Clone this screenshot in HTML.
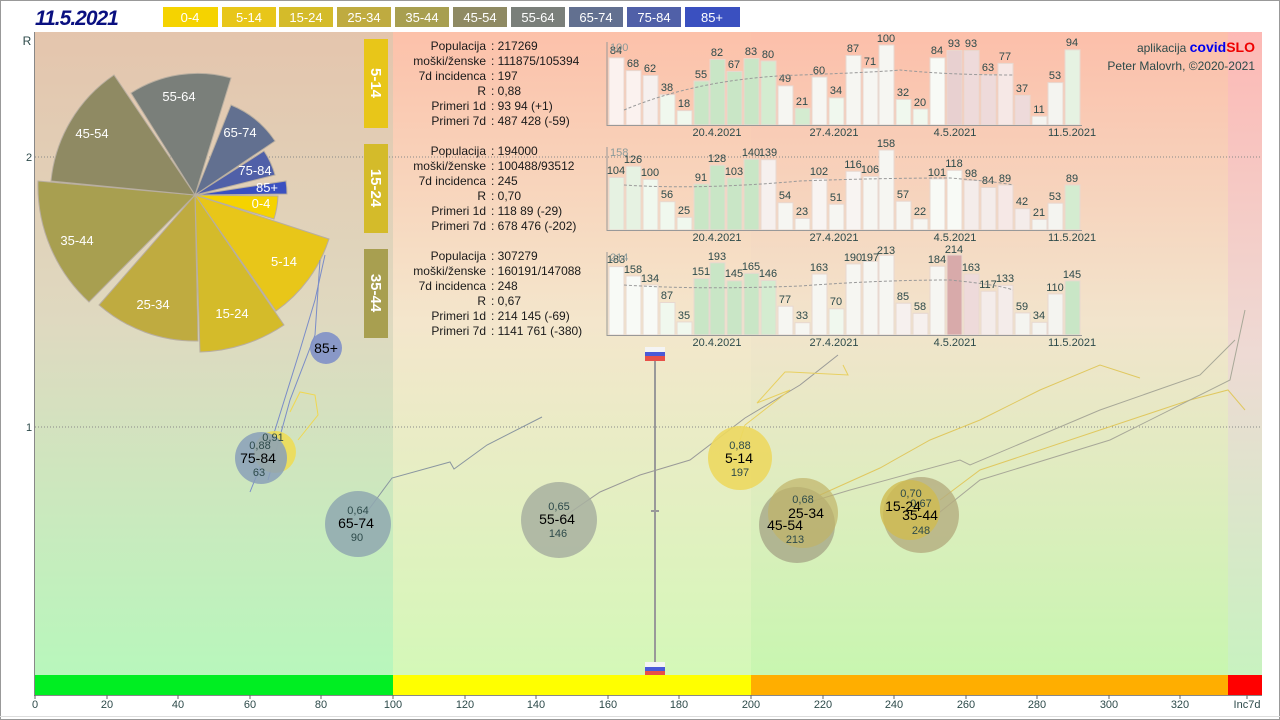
<!DOCTYPE html>
<html><head><meta charset="utf-8"><style>
html,body{margin:0;padding:0;background:#fff;}
svg{display:block;font-family:"Liberation Sans",sans-serif;}
.lb{fill:#1a1a1a;font-size:12px;text-anchor:end}
.vl{fill:#1a1a1a;font-size:12px}
.bv{fill:#2d4a4a;font-size:11px;text-anchor:middle}
.ax{fill:#2d4a4a;font-size:11px;text-anchor:middle}
.pl{fill:#fff;font-size:13px;text-anchor:middle}
.bt{text-anchor:middle;fill:#2d4a4a;font-size:11px}
.bn{text-anchor:middle;fill:#000;font-size:14px}
</style></head><body>
<svg width="1280" height="720" viewBox="0 0 1280 720">
<defs>
<linearGradient id="g1" x1="0" y1="0" x2="0" y2="1"><stop offset="0" stop-color="#e4c5ad"/><stop offset="0.45" stop-color="#dfd9c0"/><stop offset="1" stop-color="#b8f7bc"/></linearGradient>
<linearGradient id="g2" x1="0" y1="0" x2="0" y2="1"><stop offset="0" stop-color="#fcc1aa"/><stop offset="0.45" stop-color="#f4e6cc"/><stop offset="1" stop-color="#d4f8b8"/></linearGradient>
<linearGradient id="g3" x1="0" y1="0" x2="0" y2="1"><stop offset="0" stop-color="#fcbfaa"/><stop offset="0.45" stop-color="#f2e4cc"/><stop offset="1" stop-color="#c8f6b0"/></linearGradient>
<linearGradient id="g4" x1="0" y1="0" x2="0" y2="1"><stop offset="0" stop-color="#fdb9b5"/><stop offset="0.5" stop-color="#eedad4"/><stop offset="1" stop-color="#c8f2c0"/></linearGradient>
</defs>
<rect x="0.5" y="0.5" width="1279" height="719" fill="#fff" stroke="#999"/>
<rect x="35" y="32" width="358" height="643" fill="url(#g1)"/>
<rect x="393" y="32" width="358" height="643" fill="url(#g2)"/>
<rect x="751" y="32" width="477" height="643" fill="url(#g3)"/>
<rect x="1228" y="32" width="34" height="643" fill="url(#g4)"/>
<line x1="34.5" y1="32" x2="34.5" y2="696" stroke="#888"/>
<line x1="35" y1="157" x2="1262" y2="157" stroke="#888" stroke-dasharray="1,2"/>
<line x1="35" y1="427" x2="1262" y2="427" stroke="#888" stroke-dasharray="1,2"/>
<text x="27" y="45" fill="#2d4a4a" font-size="12" text-anchor="middle">R</text>
<text x="29" y="161" fill="#2d4a4a" font-size="11" text-anchor="middle">2</text>
<text x="29" y="431" fill="#2d4a4a" font-size="11" text-anchor="middle">1</text>
<!-- title & legend -->
<text x="35" y="25" fill="#0a1080" font-size="21" font-weight="bold" font-style="italic" letter-spacing="-1">11.5.2021</text>
<rect x="163" y="7" width="55" height="20" fill="#f5d300"/><text x="190" y="22" class="pl">0-4</text>
<rect x="222" y="7" width="54" height="20" fill="#e8c619"/><text x="249" y="22" class="pl">5-14</text>
<rect x="279" y="7" width="54" height="20" fill="#d4bb2a"/><text x="306" y="22" class="pl">15-24</text>
<rect x="337" y="7" width="54" height="20" fill="#bfab40"/><text x="364" y="22" class="pl">25-34</text>
<rect x="395" y="7" width="54" height="20" fill="#a89f50"/><text x="422" y="22" class="pl">35-44</text>
<rect x="453" y="7" width="54" height="20" fill="#8f8a63"/><text x="480" y="22" class="pl">45-54</text>
<rect x="511" y="7" width="54" height="20" fill="#7a7f7a"/><text x="538" y="22" class="pl">55-64</text>
<rect x="569" y="7" width="54" height="20" fill="#627090"/><text x="596" y="22" class="pl">65-74</text>
<rect x="627" y="7" width="54" height="20" fill="#5060a8"/><text x="654" y="22" class="pl">75-84</text>
<rect x="685" y="7" width="55" height="20" fill="#3a50c0"/><text x="712" y="22" class="pl">85+</text>
<!-- pie -->
<g stroke="#b8aea0" stroke-width="1">
<path d="M195,195 L278,196 A83,83 0 0 1 274,219 Z" fill="#f5d300"/>
<path d="M195,195 L329,239 A141,141 0 0 1 276,311 Z" fill="#e8c619"/>
<path d="M195,195 L284,325 A157,157 0 0 1 200,352 Z" fill="#d4bb2a"/>
<path d="M195,195 L198,341 A146,146 0 0 1 99,305 Z" fill="#bfab40"/>
<path d="M195,195 L89,302 A158,158 0 0 1 38,181 Z" fill="#a89f50"/>
<path d="M195,195 L51,181 A145,145 0 0 1 114,75 Z" fill="#8f8a63"/>
<path d="M195,195 L131,93 A123,123 0 0 1 231,78 Z" fill="#7a7f7a"/>
<path d="M195,195 L231,105 A97,97 0 0 1 275,141 Z" fill="#627090"/>
<path d="M195,195 L264,151 A82,82 0 0 1 275,175 Z" fill="#5060a8"/>
<path d="M195,195 L286,181 A92,92 0 0 1 287,194 Z" fill="#3a50c0"/>
</g>
<g class="pl" font-size="13">
<text x="261" y="208">0-4</text><text x="284" y="266">5-14</text><text x="232" y="318">15-24</text>
<text x="153" y="309">25-34</text><text x="77" y="245">35-44</text><text x="92" y="138">45-54</text>
<text x="179" y="101">55-64</text><text x="240" y="137">65-74</text><text x="255" y="175">75-84</text><text x="267" y="192">85+</text>
</g>
<!-- side labels -->
<rect x="364" y="39" width="24" height="89" fill="#e8c619"/>
<rect x="364" y="144" width="24" height="89" fill="#d4bb2a"/>
<rect x="364" y="249" width="24" height="89" fill="#a89f50"/>
<g fill="#fff" font-size="15" font-weight="bold" text-anchor="middle">
<text transform="translate(371,83) rotate(90)">5-14</text>
<text transform="translate(371,188) rotate(90)">15-24</text>
<text transform="translate(371,293) rotate(90)">35-44</text>
</g>
<!-- text blocks -->
<g>
<text x="486" y="50" class="lb">Populacija</text><text x="491" y="50" class="vl">: 217269</text>
<text x="486" y="65" class="lb">moški/ženske</text><text x="491" y="65" class="vl">: 111875/105394</text>
<text x="486" y="80" class="lb">7d incidenca</text><text x="491" y="80" class="vl">: 197</text>
<text x="486" y="95" class="lb">R</text><text x="491" y="95" class="vl">: 0,88</text>
<text x="486" y="110" class="lb">Primeri 1d</text><text x="491" y="110" class="vl">: 93 94 (+1)</text>
<text x="486" y="125" class="lb">Primeri 7d</text><text x="491" y="125" class="vl">: 487 428 (-59)</text>
<text x="486" y="155" class="lb">Populacija</text><text x="491" y="155" class="vl">: 194000</text>
<text x="486" y="170" class="lb">moški/ženske</text><text x="491" y="170" class="vl">: 100488/93512</text>
<text x="486" y="185" class="lb">7d incidenca</text><text x="491" y="185" class="vl">: 245</text>
<text x="486" y="200" class="lb">R</text><text x="491" y="200" class="vl">: 0,70</text>
<text x="486" y="215" class="lb">Primeri 1d</text><text x="491" y="215" class="vl">: 118 89 (-29)</text>
<text x="486" y="230" class="lb">Primeri 7d</text><text x="491" y="230" class="vl">: 678 476 (-202)</text>
<text x="486" y="260" class="lb">Populacija</text><text x="491" y="260" class="vl">: 307279</text>
<text x="486" y="275" class="lb">moški/ženske</text><text x="491" y="275" class="vl">: 160191/147088</text>
<text x="486" y="290" class="lb">7d incidenca</text><text x="491" y="290" class="vl">: 248</text>
<text x="486" y="305" class="lb">R</text><text x="491" y="305" class="vl">: 0,67</text>
<text x="486" y="320" class="lb">Primeri 1d</text><text x="491" y="320" class="vl">: 214 145 (-69)</text>
<text x="486" y="335" class="lb">Primeri 7d</text><text x="491" y="335" class="vl">: 1141 761 (-380)</text>
</g>
<text x="1255" y="52" font-size="12" fill="#2d4a4a" text-anchor="end">aplikacija <tspan fill="#0000ee" font-weight="bold" font-size="14">covid</tspan><tspan fill="#ee0000" font-weight="bold" font-size="14">SLO</tspan></text>
<text x="1255" y="70" font-size="12" fill="#2d4a4a" text-anchor="end">Peter Malovrh, ©2020-2021</text>
<!-- panel 1 -->
<g stroke="#e8d8d0" stroke-width="1">
<rect x="609" y="57.8" width="15" height="67.2" fill="#fbf2ef"/><rect x="626" y="70.6" width="15" height="54.4" fill="#fbf2ef"/><rect x="643" y="75.4" width="15" height="49.6" fill="#f6f0ee"/><rect x="660" y="94.6" width="15" height="30.4" fill="#f0f8ee"/><rect x="677" y="110.6" width="15" height="14.4" fill="#f0f8ee"/><rect x="694" y="81" width="15" height="44" fill="#c9e6c6"/><rect x="710" y="59.4" width="15" height="65.6" fill="#c9e6c6"/><rect x="727" y="71.4" width="15" height="53.6" fill="#c9e6c6"/><rect x="744" y="58.6" width="15" height="66.4" fill="#c9e6c6"/><rect x="761" y="61" width="15" height="64" fill="#d4ecd0"/><rect x="778" y="85.8" width="15" height="39.2" fill="#f6f6f2"/><rect x="795" y="108.2" width="15" height="16.8" fill="#d4ecd0"/><rect x="812" y="77" width="15" height="48" fill="#f6f6f2"/><rect x="829" y="97.8" width="15" height="27.2" fill="#f0f8ee"/><rect x="846" y="55.4" width="15" height="69.6" fill="#f6f6f2"/><rect x="863" y="68.2" width="15" height="56.8" fill="#f6f6f2"/><rect x="879" y="45" width="15" height="80" fill="#f6f6f2"/><rect x="896" y="99.4" width="15" height="25.6" fill="#f0f8ee"/><rect x="913" y="109" width="15" height="16" fill="#f0f8ee"/><rect x="930" y="57.8" width="15" height="67.2" fill="#f8faf6"/><rect x="947" y="50.6" width="15" height="74.4" fill="#e8d0d0"/><rect x="964" y="50.6" width="15" height="74.4" fill="#eedada"/><rect x="981" y="74.6" width="15" height="50.4" fill="#eedada"/><rect x="998" y="63.4" width="15" height="61.6" fill="#f6e8e6"/><rect x="1015" y="95.4" width="15" height="29.6" fill="#eedada"/><rect x="1032" y="116.2" width="15" height="8.8" fill="#f4f4f0"/><rect x="1048" y="82.6" width="15" height="42.4" fill="#f4f4f0"/><rect x="1065" y="49.8" width="15" height="75.2" fill="#e6f2e2"/>
</g>
<g class="bv">
<text x="616" y="54">84</text><text x="633" y="67">68</text><text x="650" y="72">62</text><text x="667" y="91">38</text><text x="684" y="107">18</text><text x="701" y="78">55</text><text x="717" y="56">82</text><text x="734" y="68">67</text><text x="751" y="55">83</text><text x="768" y="58">80</text><text x="785" y="82">49</text><text x="802" y="105">21</text><text x="819" y="74">60</text><text x="836" y="94">34</text><text x="853" y="52">87</text><text x="870" y="65">71</text><text x="886" y="42">100</text><text x="903" y="96">32</text><text x="920" y="106">20</text><text x="937" y="54">84</text><text x="954" y="47">93</text><text x="971" y="47">93</text><text x="988" y="71">63</text><text x="1005" y="60">77</text><text x="1022" y="92">37</text><text x="1039" y="113">11</text><text x="1055" y="79">53</text><text x="1072" y="46">94</text>
</g>
<!-- panel 2 -->
<g stroke="#e8d8d0" stroke-width="1">
<rect x="609" y="177.4" width="15" height="52.6" fill="#e6f2e2"/><rect x="626" y="166.2" width="15" height="63.8" fill="#e6f2e2"/><rect x="643" y="179.4" width="15" height="50.6" fill="#f0f8ee"/><rect x="660" y="201.7" width="15" height="28.3" fill="#f0f8ee"/><rect x="677" y="217.3" width="15" height="12.7" fill="#f0f8ee"/><rect x="694" y="184" width="15" height="46" fill="#c9e6c6"/><rect x="710" y="165.2" width="15" height="64.8" fill="#c9e6c6"/><rect x="727" y="177.9" width="15" height="52.1" fill="#c9e6c6"/><rect x="744" y="159.2" width="15" height="70.8" fill="#c9e6c6"/><rect x="761" y="159.7" width="15" height="70.3" fill="#f6f0ee"/><rect x="778" y="202.7" width="15" height="27.3" fill="#f6f6f2"/><rect x="795" y="218.4" width="15" height="11.6" fill="#f6f6f2"/><rect x="812" y="178.4" width="15" height="51.6" fill="#f8f4f2"/><rect x="829" y="204.2" width="15" height="25.8" fill="#f6f6f2"/><rect x="846" y="171.3" width="15" height="58.7" fill="#f8f4f2"/><rect x="863" y="176.4" width="15" height="53.6" fill="#f6f6f2"/><rect x="879" y="150" width="15" height="80" fill="#f6f6f2"/><rect x="896" y="201.2" width="15" height="28.8" fill="#f6f6f2"/><rect x="913" y="218.9" width="15" height="11.1" fill="#f6f6f2"/><rect x="930" y="178.9" width="15" height="51.1" fill="#f8faf6"/><rect x="947" y="170.3" width="15" height="59.7" fill="#f8faf6"/><rect x="964" y="180.4" width="15" height="49.6" fill="#f4ecea"/><rect x="981" y="187.5" width="15" height="42.5" fill="#f4ecea"/><rect x="998" y="185" width="15" height="45" fill="#f6e8e6"/><rect x="1015" y="208.7" width="15" height="21.3" fill="#f4ecea"/><rect x="1032" y="219.4" width="15" height="10.6" fill="#f4f4f0"/><rect x="1048" y="203.2" width="15" height="26.8" fill="#f4f4f0"/><rect x="1065" y="185" width="15" height="45" fill="#d4ecd0"/>
</g>
<g class="bv">
<text x="616" y="174">104</text><text x="633" y="163">126</text><text x="650" y="176">100</text><text x="667" y="198">56</text><text x="684" y="214">25</text><text x="701" y="181">91</text><text x="717" y="162">128</text><text x="734" y="175">103</text><text x="751" y="156">140</text><text x="768" y="156">139</text><text x="785" y="199">54</text><text x="802" y="215">23</text><text x="819" y="175">102</text><text x="836" y="201">51</text><text x="853" y="168">116</text><text x="870" y="173">106</text><text x="886" y="147">158</text><text x="903" y="198">57</text><text x="920" y="215">22</text><text x="937" y="176">101</text><text x="954" y="167">118</text><text x="971" y="177">98</text><text x="988" y="184">84</text><text x="1005" y="182">89</text><text x="1022" y="205">42</text><text x="1039" y="216">21</text><text x="1055" y="200">53</text><text x="1072" y="182">89</text>
</g>
<!-- panel 3 -->
<g stroke="#e8d8d0" stroke-width="1">
<rect x="609" y="266.6" width="15" height="68.4" fill="#f8faf6"/><rect x="626" y="275.9" width="15" height="59.1" fill="#f8faf6"/><rect x="643" y="284.9" width="15" height="50.1" fill="#f8faf6"/><rect x="660" y="302.5" width="15" height="32.5" fill="#f0f8ee"/><rect x="677" y="321.9" width="15" height="13.1" fill="#f0f8ee"/><rect x="694" y="278.5" width="15" height="56.5" fill="#c9e6c6"/><rect x="710" y="262.8" width="15" height="72.2" fill="#c9e6c6"/><rect x="727" y="280.8" width="15" height="54.2" fill="#c9e6c6"/><rect x="744" y="273.3" width="15" height="61.7" fill="#c9e6c6"/><rect x="761" y="280.4" width="15" height="54.6" fill="#d4ecd0"/><rect x="778" y="306.2" width="15" height="28.8" fill="#f6f6f2"/><rect x="795" y="322.7" width="15" height="12.3" fill="#f6f6f2"/><rect x="812" y="274" width="15" height="61" fill="#f6f6f2"/><rect x="829" y="308.8" width="15" height="26.2" fill="#f0f8ee"/><rect x="846" y="263.9" width="15" height="71.1" fill="#f6f6f2"/><rect x="863" y="261.3" width="15" height="73.7" fill="#f6f6f2"/><rect x="879" y="255.3" width="15" height="79.7" fill="#f6f6f2"/><rect x="896" y="303.2" width="15" height="31.8" fill="#f6f0ee"/><rect x="913" y="313.3" width="15" height="21.7" fill="#f6f0ee"/><rect x="930" y="266.2" width="15" height="68.8" fill="#f6f6f2"/><rect x="947" y="255" width="15" height="80" fill="#d8aaaa"/><rect x="964" y="274" width="15" height="61" fill="#eedada"/><rect x="981" y="291.2" width="15" height="43.8" fill="#f4ecea"/><rect x="998" y="285.3" width="15" height="49.7" fill="#f4ecea"/><rect x="1015" y="312.9" width="15" height="22.1" fill="#f4f4f0"/><rect x="1032" y="322.3" width="15" height="12.7" fill="#f4f4f0"/><rect x="1048" y="293.9" width="15" height="41.1" fill="#f4f4f0"/><rect x="1065" y="280.8" width="15" height="54.2" fill="#c9e6c6"/>
</g>
<g class="bv">
<text x="616" y="263">183</text><text x="633" y="273">158</text><text x="650" y="282">134</text><text x="667" y="299">87</text><text x="684" y="319">35</text><text x="701" y="275">151</text><text x="717" y="260">193</text><text x="734" y="277">145</text><text x="751" y="270">165</text><text x="768" y="277">146</text><text x="785" y="303">77</text><text x="802" y="319">33</text><text x="819" y="271">163</text><text x="836" y="305">70</text><text x="853" y="261">190</text><text x="870" y="261">197</text><text x="886" y="254">213</text><text x="903" y="300">85</text><text x="920" y="310">58</text><text x="937" y="263">184</text><text x="954" y="253">214</text><text x="971" y="271">163</text><text x="988" y="288">117</text><text x="1005" y="282">133</text><text x="1022" y="310">59</text><text x="1039" y="319">34</text><text x="1055" y="291">110</text><text x="1072" y="278">145</text>
</g>
<!-- panel axes -->
<g stroke="#999" fill="none">
<path d="M607,42 V125.5 H1082"/><path d="M607,147 V230.5 H1082"/><path d="M607,252 V335.5 H1082"/>
<path d="M624,110 Q700,78 800,75 Q880,72 900,70 Q950,75 1013,75" stroke-dasharray="3,2"/>
<path d="M624,185 Q700,190 800,181 Q880,178 950,178 Q1000,182 1013,185" stroke-dasharray="3,2"/>
<path d="M624,285 Q700,290 800,286 Q880,280 950,280 Q1000,285 1013,290" stroke-dasharray="3,2"/>
</g>
<g class="ax">
<text x="717" y="136">20.4.2021</text><text x="834" y="136">27.4.2021</text><text x="955" y="136">4.5.2021</text><text x="1072" y="136">11.5.2021</text>
<text x="717" y="241">20.4.2021</text><text x="834" y="241">27.4.2021</text><text x="955" y="241">4.5.2021</text><text x="1072" y="241">11.5.2021</text>
<text x="717" y="346">20.4.2021</text><text x="834" y="346">27.4.2021</text><text x="955" y="346">4.5.2021</text><text x="1072" y="346">11.5.2021</text>
</g>
<text x="610" y="51" fill="#8a9a9a" font-size="11">100</text>
<text x="610" y="156" fill="#8a9a9a" font-size="11">158</text>
<text x="610" y="261" fill="#8a9a9a" font-size="11">214</text>
<!-- trails -->
<g fill="none" stroke-width="1">
<polyline points="358,524 392,478 450,462 454,469 487,445 542,417" stroke="#8a96a0"/>
<polyline points="559,520 600,492 640,475 690,460 745,418 800,385 838,355" stroke="#9a9a98"/>
<polyline points="740,440 745,425 790,390 757,403 785,372 790,372 848,375 843,365" stroke="#e8d060"/>
<polyline points="820,495 880,468 930,440 980,420 1040,390 1100,365 1140,378" stroke="#e0c860"/>
<polyline points="800,505 850,490 960,460 970,465 1100,410 1200,375 1235,340" stroke="#a8a898"/>
<polyline points="940,500 980,470 1100,430 1190,400 1228,390 1245,410" stroke="#e0c860"/>
<polyline points="930,520 980,480 1110,440 1230,380 1245,310" stroke="#a8a898"/>
<polyline points="250,492 275,430 300,350 315,300 325,255" stroke="#7a8cc8"/>
<polyline points="268,480 290,400 315,335 320,260" stroke="#7a8cc8"/>
<polyline points="298,440 318,415 315,395 300,392 290,412" stroke="#f0d850"/>
</g>
<!-- vertical marker -->
<line x1="655" y1="360" x2="655" y2="665" stroke="#999" stroke-width="2"/>
<line x1="651" y1="511" x2="659" y2="511" stroke="#999" stroke-width="2"/>
<rect x="645" y="347" width="20" height="5" fill="#f4f4f4"/><rect x="645" y="352" width="20" height="4" fill="#4a5ad8"/><rect x="645" y="356" width="20" height="5" fill="#e85048"/>
<rect x="645" y="662" width="20" height="5" fill="#f4f4f4"/><rect x="645" y="667" width="20" height="4" fill="#4a5ad8"/><rect x="645" y="671" width="20" height="5" fill="#e85048"/>
<!-- bubbles -->
<g>
<circle cx="326" cy="348" r="16" fill="#7f90c8" opacity="0.9"/><text x="326" y="353" class="bn" font-size="13">85+</text>
<circle cx="358" cy="524" r="33" fill="#8fa8b0" opacity="0.85"/><text x="358" y="514" class="bt">0,64</text><text x="356" y="528" class="bn">65-74</text><text x="357" y="541" class="bt">90</text>
<circle cx="559" cy="520" r="38" fill="#a8b0a0" opacity="0.85"/><text x="559" y="510" class="bt">0,65</text><text x="557" y="524" class="bn">55-64</text><text x="558" y="537" class="bt">146</text>
<circle cx="275" cy="452" r="21" fill="#f0dc50" opacity="0.85"/>
<circle cx="261" cy="458" r="26" fill="#8aa0b8" opacity="0.85"/><text x="273" y="441" class="bt">0,91</text><text x="260" y="449" class="bt">0,88</text><text x="258" y="463" class="bn">75-84</text><text x="259" y="476" class="bt">63</text>
<circle cx="740" cy="458" r="32" fill="#ecd860" opacity="0.9"/><text x="740" y="449" class="bt">0,88</text><text x="739" y="463" class="bn">5-14</text><text x="740" y="476" class="bt">197</text>
<circle cx="797" cy="525" r="38" fill="#a8a888" opacity="0.8"/>
<circle cx="803" cy="513" r="35" fill="#c0b468" opacity="0.7"/><text x="803" y="503" class="bt">0,68</text><text x="806" y="518" class="bn" fill="#333">25-34</text><text x="785" y="530" class="bn">45-54</text><text x="795" y="543" class="bt">213</text>
<circle cx="921" cy="515" r="38" fill="#b4ac80" opacity="0.8"/>
<circle cx="910" cy="510" r="30" fill="#d0bc50" opacity="0.8"/><text x="911" y="497" class="bt">0,70</text><text x="921" y="507" class="bt">0,67</text><text x="903" y="511" class="bn" fill="#333">15-24</text><text x="920" y="520" class="bn">35-44</text><text x="921" y="534" class="bt">248</text>
</g>
<!-- bottom bar -->
<rect x="35" y="675" width="358" height="20" fill="#00ee22"/>
<rect x="393" y="675" width="358" height="20" fill="#ffff00"/>
<rect x="751" y="675" width="477" height="20" fill="#ffae00"/>
<rect x="1228" y="675" width="34" height="20" fill="#ff0000"/>
<line x1="35" y1="695.5" x2="1262" y2="695.5" stroke="#888"/>
<g stroke="#666">
<line x1="35" y1="695" x2="35" y2="699"/><line x1="107" y1="695" x2="107" y2="699"/><line x1="178" y1="695" x2="178" y2="699"/><line x1="250" y1="695" x2="250" y2="699"/><line x1="321" y1="695" x2="321" y2="699"/><line x1="393" y1="695" x2="393" y2="699"/><line x1="465" y1="695" x2="465" y2="699"/><line x1="536" y1="695" x2="536" y2="699"/><line x1="608" y1="695" x2="608" y2="699"/><line x1="679" y1="695" x2="679" y2="699"/><line x1="751" y1="695" x2="751" y2="699"/><line x1="823" y1="695" x2="823" y2="699"/><line x1="894" y1="695" x2="894" y2="699"/><line x1="966" y1="695" x2="966" y2="699"/><line x1="1037" y1="695" x2="1037" y2="699"/><line x1="1109" y1="695" x2="1109" y2="699"/><line x1="1180" y1="695" x2="1180" y2="699"/><line x1="1247" y1="695" x2="1247" y2="699"/>
</g>
<g class="ax" font-size="12">
<text x="35" y="708">0</text><text x="107" y="708">20</text><text x="178" y="708">40</text><text x="250" y="708">60</text><text x="321" y="708">80</text><text x="393" y="708">100</text><text x="465" y="708">120</text><text x="536" y="708">140</text><text x="608" y="708">160</text><text x="679" y="708">180</text><text x="751" y="708">200</text><text x="823" y="708">220</text><text x="894" y="708">240</text><text x="966" y="708">260</text><text x="1037" y="708">280</text><text x="1109" y="708">300</text><text x="1180" y="708">320</text><text x="1247" y="708">Inc7d</text>
</g>
<line x1="0" y1="716.5" x2="1280" y2="716.5" stroke="#ddd"/>
</svg>
</body></html>
